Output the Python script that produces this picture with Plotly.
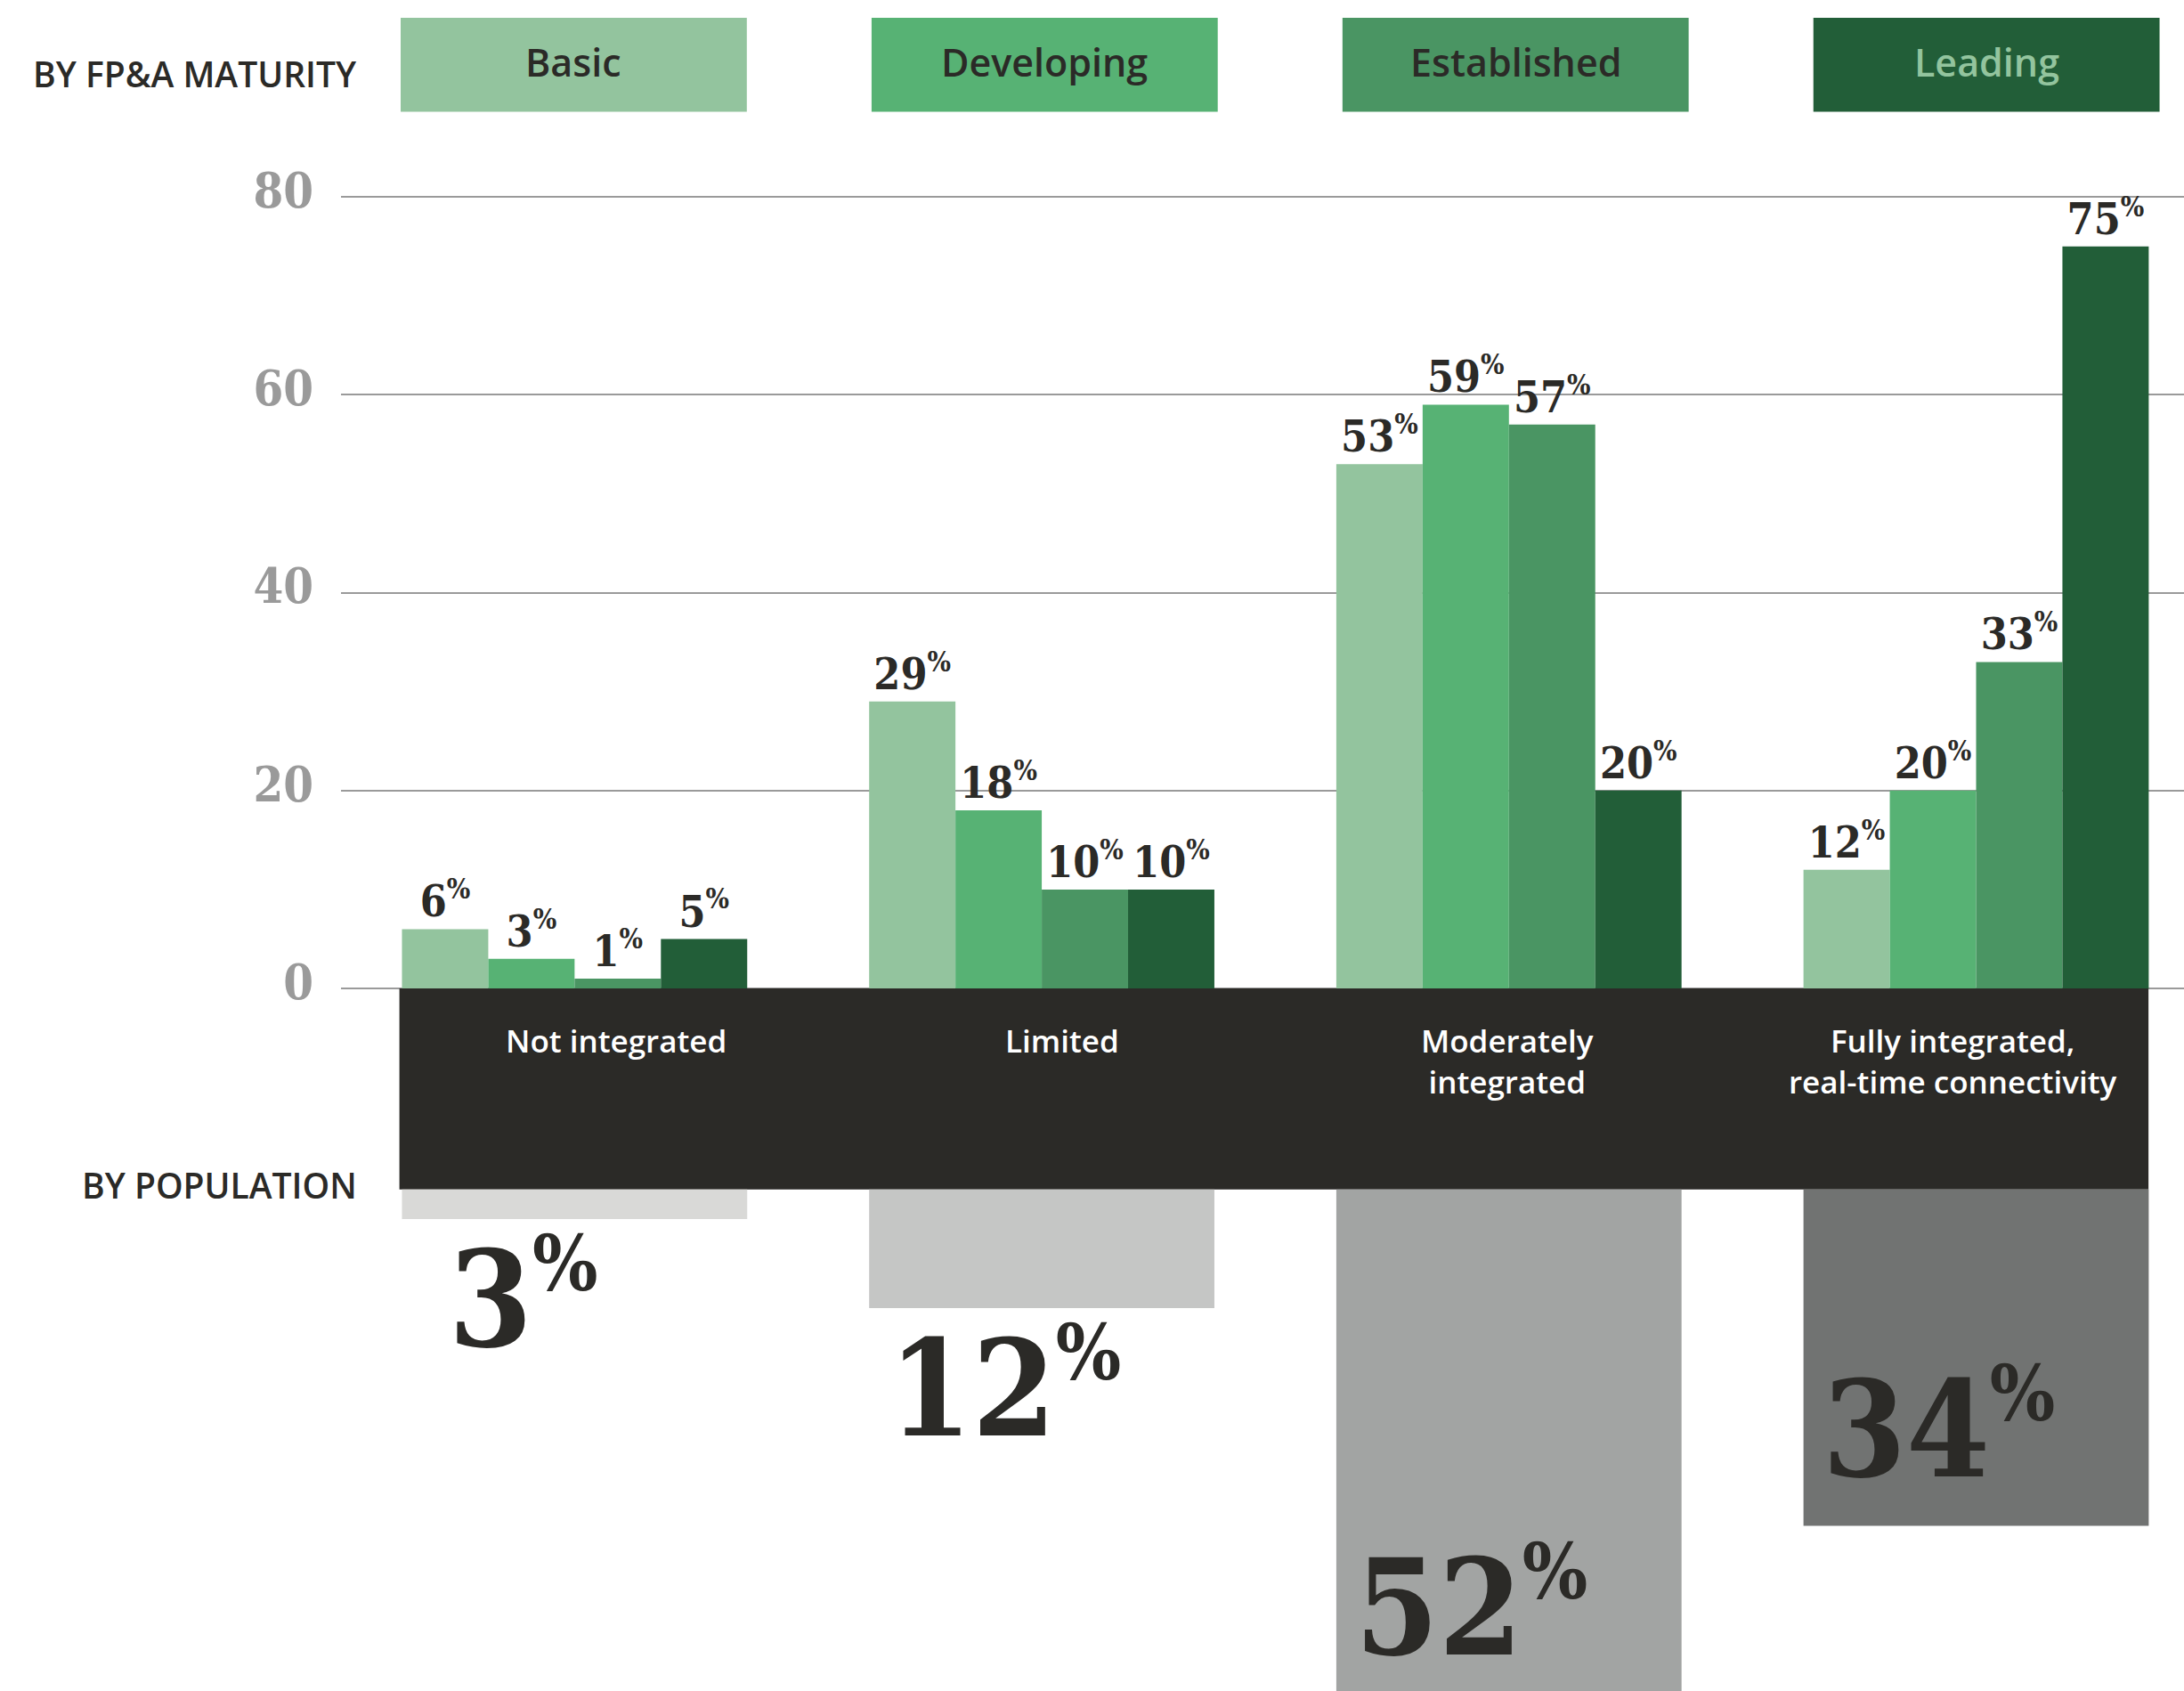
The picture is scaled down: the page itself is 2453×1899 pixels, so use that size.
import plotly.graph_objects as go

# ---- data -------------------------------------------------------------
integration_levels = [
    "Not integrated",
    "Limited",
    "Moderately<br>integrated",
    "Fully integrated,<br>real-time connectivity",
]
maturity_levels = ["Basic", "Developing", "Established", "Leading"]

basic = [6, 29, 53, 12]
developing = [3, 18, 59, 20]
established = [1, 10, 57, 33]
leading = [5, 10, 20, 75]

population = [3, 12, 52, 34]

y_ticks = [0, 20, 40, 60, 80]

# ---- style ------------------------------------------------------------
INK = "#2b2a27"
GRID = "#9a9a9a"
green_colors = ["#93c49e", "#57b274", "#4a9563", "#225e38"]
legend_text_colors = [INK, INK, INK, "#93c49e"]
population_colors = ["#d9d9d7", "#c5c6c5", "#a2a4a3", "#717372"]

SERIF = "DejaVu Serif Condensed, DejaVu Serif, serif"
SANS = "Open Sans, Noto Sans, sans-serif"

BAND_DEPTH = 20.3        # height of the dark category band, in axis units
X_RANGE = [-0.5, 3.445]
Y_RANGE = [-71.0, 99.9]
POP_LABEL_DX = [-0.11, -0.08, -0.08, -0.08]   # horizontal nudge of the big figures

x_pos = list(range(len(integration_levels)))
series = [basic, developing, established, leading]

fig = go.Figure()

# grouped maturity bars with value labels
for name, vals, col in zip(maturity_levels, series, green_colors):
    fig.add_trace(go.Bar(
        x=x_pos, y=vals, name=name,
        marker=dict(color=col, line=dict(width=0)),
        texttemplate="%{y}<sup><span style='font-size:31px'>%</span></sup>",
        textposition="outside", textangle=0, constraintext="none",
        cliponaxis=False,
        textfont=dict(family=SERIF, size=48, color=INK, weight="bold"),
        hoverinfo="skip", showlegend=False,
    ))

# population bars hanging below the category band
fig.add_trace(go.Bar(
    x=x_pos, y=[-v for v in population], base=-BAND_DEPTH,
    marker=dict(color=population_colors, line=dict(width=0)),
    xaxis="x2", hoverinfo="skip", showlegend=False,
))

shapes = [
    dict(type="rect", xref="x", yref="y", x0=-0.375, x1=3.369,
         y0=-BAND_DEPTH, y1=0, fillcolor=INK, line=dict(width=0),
         layer="between"),
]

annotations = []

# legend swatches along the top
for i, (name, col, tcol) in enumerate(zip(maturity_levels, green_colors, legend_text_colors)):
    cx = -0.0018 + 1.008 * i
    shapes.append(dict(type="rect", xref="x", yref="y",
                       x0=cx - 0.3705, x1=cx + 0.3705, y0=88.6, y1=98.1,
                       fillcolor=col, line=dict(width=0), layer="above"))
    annotations.append(dict(x=cx, y=93.65, xref="x", yref="y", text=name,
                            showarrow=False, xanchor="center", yanchor="middle",
                            font=dict(family=SANS, size=43, color=tcol, weight=600)))

# category labels inside the dark band
for i, lab in enumerate(integration_levels):
    annotations.append(dict(x=0.089 + 0.954 * i, y=-3.0, xref="x", yref="y",
                            text=lab, showarrow=False, align="center",
                            xanchor="center", yanchor="top",
                            font=dict(family=SANS, size=35, color="#ffffff", weight=600)))

# population share figures: inside the bar end when long, below it when short
for i, v in enumerate(population):
    end = -(BAND_DEPTH + v)
    inside = v > 20
    annotations.append(dict(
        x=i + POP_LABEL_DX[i], y=end + (1.7 if inside else 0.3),
        xref="x", yref="y",
        text=f"{v}<sup><span style='font-size:86px'>%</span></sup>",
        showarrow=False, xanchor="center",
        yanchor="bottom" if inside else "top",
        font=dict(family=SERIF, size=150, color=INK, weight="bold"),
    ))

# section headings
annotations.append(dict(x=-0.462, y=92.5, xref="x", yref="y",
                        text="BY FP&A MATURITY", showarrow=False,
                        xanchor="right", yanchor="middle",
                        font=dict(family=SANS, size=39, color=INK, weight=600)))
annotations.append(dict(x=-0.462, y=-19.8, xref="x", yref="y",
                        text="BY POPULATION", showarrow=False,
                        xanchor="right", yanchor="middle",
                        font=dict(family=SANS, size=39, color=INK, weight=600)))

fig.update_layout(
    width=2453, height=1899,
    margin=dict(l=383, r=0, t=0, b=0, pad=0),
    paper_bgcolor="#ffffff", plot_bgcolor="#ffffff",
    barmode="group", bargap=0.261, bargroupgap=0,
    showlegend=False,
    xaxis=dict(range=X_RANGE, visible=False, fixedrange=True),
    xaxis2=dict(range=X_RANGE, overlaying="x", visible=False, fixedrange=True),
    yaxis=dict(
        range=Y_RANGE, tickvals=y_ticks, ticktext=[str(t) for t in y_ticks],
        showgrid=True, gridcolor=GRID, gridwidth=2,
        zeroline=False, showline=False, ticks="",
        ticklabelstandoff=30, ticklabelshift=-7,
        automargin=False, fixedrange=True,
        tickfont=dict(family=SERIF, size=54, color=GRID, weight="bold"),
    ),
    shapes=shapes,
    annotations=annotations,
)

fig.write_html("out.html")
